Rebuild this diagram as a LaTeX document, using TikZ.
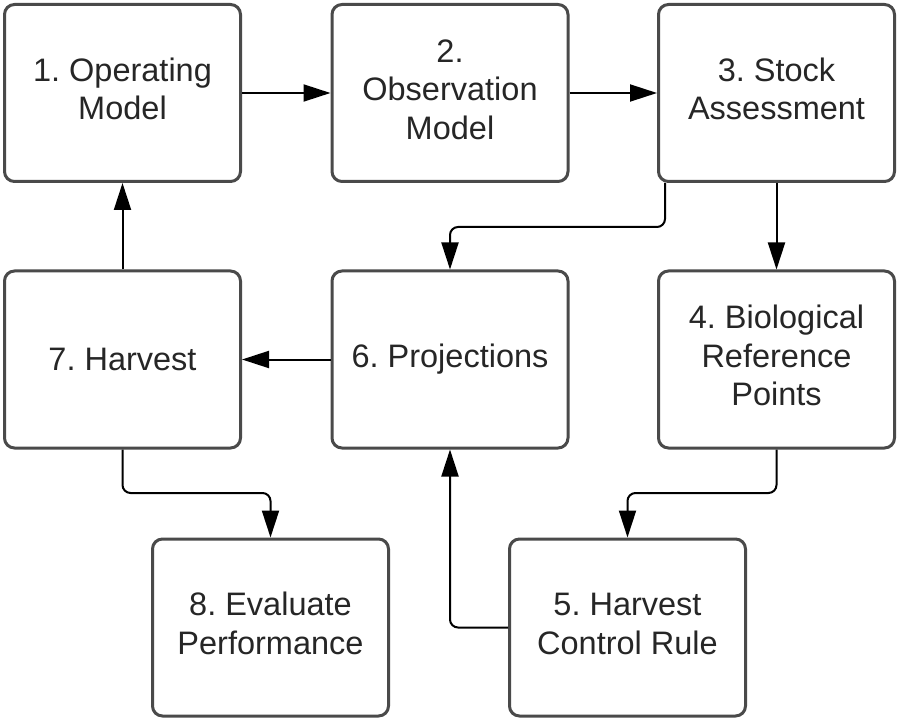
\documentclass[tikz,border=0pt]{standalone}
\usepackage{fontspec}
\setmainfont{Liberation Sans}
\usetikzlibrary{arrows.meta}
\definecolor{boxline}{HTML}{4A4A4A}
\definecolor{txt}{HTML}{262626}
\tikzset{
  stepbox/.style={draw=boxline, line width=3pt, fill=white, rounded corners=10pt,
    minimum width=236pt, minimum height=177pt, inner sep=0pt, align=center,
    text=txt, font=\fontsize{32.5pt}{38.5pt}\selectfont\frenchspacing},
  arr/.style={draw=black, line width=2pt, rounded corners=8pt,
    -{Triangle[length=27pt,width=17pt]}}
}
\begin{document}
\begin{tikzpicture}[x=1pt,y=-1pt]
\useasboundingbox (0,0) rectangle (900,722);
\node[stepbox] (n1) at (122.5,93) {\raisebox{5pt}{\begin{tabular}{@{}c@{}}1. Operating\\Model\end{tabular}}};
\node[stepbox] (n2) at (450,93) {\raisebox{3pt}{\begin{tabular}{@{}c@{}}2.\\Observation\\Model\end{tabular}}};
\node[stepbox] (n3) at (776.5,93) {\raisebox{5pt}{\begin{tabular}{@{}c@{}}3. Stock\\Assessment\end{tabular}}};
\node[stepbox] (n7) at (122.5,359.5) {7. Harvest};
\node[stepbox] (n6) at (450,359.5) {\raisebox{-2pt}{6. Projections}};
\node[stepbox] (n4) at (776.5,359.5) {\raisebox{2pt}{\begin{tabular}{@{}c@{}}4. Biological\\Reference\\Points\end{tabular}}};
\node[stepbox] (n8) at (270.5,627.5) {\raisebox{5pt}{\begin{tabular}{@{}c@{}}8. Evaluate\\Performance\end{tabular}}};
\node[stepbox] (n5) at (627.5,627.5) {\raisebox{5pt}{\begin{tabular}{@{}c@{}}5. Harvest\\Control Rule\end{tabular}}};
\coordinate (c36) at (665,227);
\coordinate (c45) at (776.5,493);
\coordinate (c78) at (122.5,493);
\draw[arr] (n1.east) -- (n2.west);
\draw[arr] (n2.east) -- (n3.west);
\draw[arr] (n3.south -| c36) -- (c36) -| (n6.north);
\draw[arr] (n3.south) -- (n4.north);
\draw[arr] (n4.south) -- (c45) -| (n5.north);
\draw[arr] (n5.west) -| (n6.south);
\draw[arr] (n6.west) -- (n7.east);
\draw[arr] (n7.north) -- (n1.south);
\draw[arr] (n7.south) -- (c78) -| (n8.north);
\end{tikzpicture}
\end{document}
